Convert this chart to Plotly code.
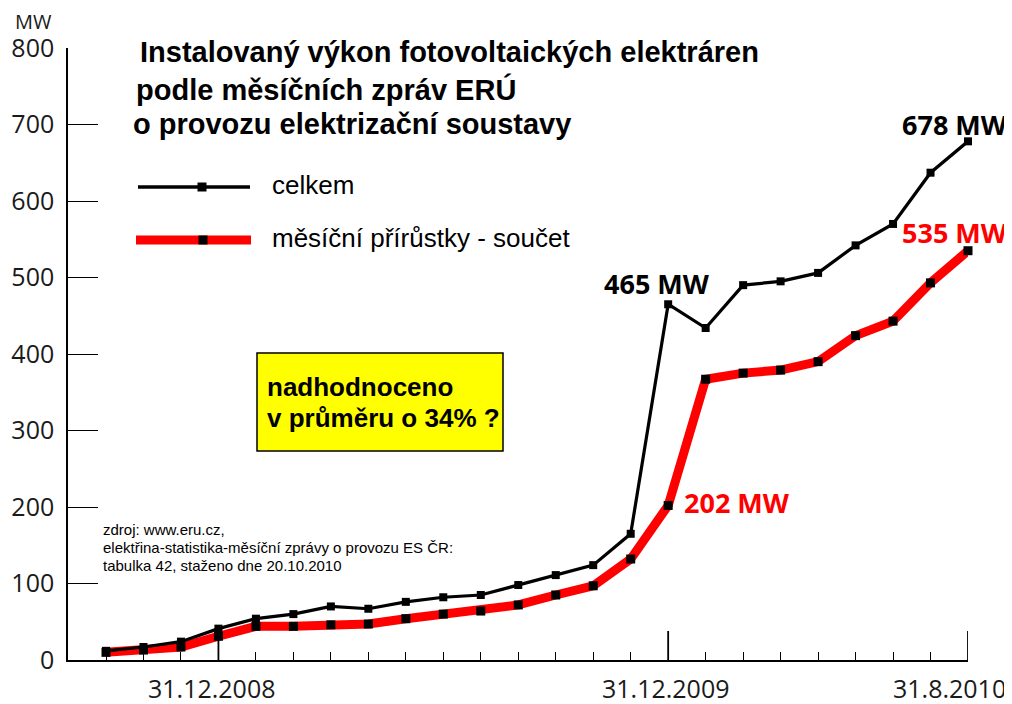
import plotly.graph_objects as go

# ---- data ----
months = list(range(24))  # 30.9.2008 ... 31.8.2010, monthly
celkem = [12, 17, 24, 41, 54, 60, 70, 67, 76, 82, 85, 98, 111, 124, 165,
          465, 434, 490, 495, 506, 542, 570, 637, 678]
soucet = [10, 13, 17, 31, 44, 44, 46, 47, 54, 60, 64, 72, 85, 97, 132,
          202, 367, 375, 379, 390, 424, 443, 493, 535]
date_tick_idx = [3, 15, 23]
date_tick_labels = ["31.12.2008", "31.12.2009", "31.8.2010"]
y_ticks = [0, 100, 200, 300, 400, 500, 600, 700, 800]

OFF = 8  # page body margin
W, H = 1012 - OFF, 704 - OFF
L, T = 68 - OFF, 48 - OFF
R, B = W - (968 - OFF), H - (660 - OFF)
PW, PH = W - L - R, H - T - B


def px(x):
    return (x - OFF - L) / PW


def py(y):
    return (H - B - (y - OFF)) / PH


fig = go.Figure()
fig.add_trace(go.Scatter(
    x=months, y=soucet, mode="lines+markers", cliponaxis=False,
    line=dict(color="#ff0000", width=9),
    marker=dict(symbol="square", size=9, color="black"),
    showlegend=False, hoverinfo="skip"))
fig.add_trace(go.Scatter(
    x=months, y=celkem, mode="lines+markers", cliponaxis=False,
    line=dict(color="black", width=3.2),
    marker=dict(symbol="square", size=8, color="black"),
    showlegend=False, hoverinfo="skip"))

shapes = []
# long ticks at labelled dates
for i in date_tick_idx:
    shapes.append(dict(type="line", xref="x", yref="paper", x0=i, x1=i,
                       y0=0, y1=29 / PH, line=dict(color="black", width=1.8)))
# legend
shapes.append(dict(type="line", xref="paper", yref="paper",
                   x0=px(138), x1=px(250), y0=py(187), y1=py(187),
                   line=dict(color="black", width=3.5)))
shapes.append(dict(type="line", xref="paper", yref="paper",
                   x0=px(136), x1=px(251), y0=py(240), y1=py(240),
                   line=dict(color="#ff0000", width=9)))
for cx, cy, s in [(202, 187, 9), (203, 240, 9)]:
    shapes.append(dict(type="rect", xref="paper", yref="paper",
                       x0=px(cx - s / 2), x1=px(cx + s / 2),
                       y0=py(cy + s / 2), y1=py(cy - s / 2),
                       fillcolor="black", line=dict(width=0)))
# yellow box
shapes.append(dict(type="rect", xref="paper", yref="paper",
                   x0=px(257), x1=px(503), y0=py(451), y1=py(353),
                   fillcolor="#ffff00", line=dict(color="black", width=1.5),
                   layer="below"))

ann = []


def text(x, y, s, size, color="black", family="Liberation Sans, Arial",
         xanchor="left", bold=False):
    ann.append(dict(xref="paper", yref="paper", x=px(x), y=py(y),
                    text=("<b>%s</b>" % s) if bold else s, showarrow=False,
                    xanchor=xanchor, yanchor="middle",
                    font=dict(size=size, color=color, family=family)))


# title
text(138, 52, "Instalovaný výkon fotovoltaických elektráren", 29, bold=True)
text(134, 89, "podle měsíčních zpráv ERÚ", 29, bold=True)
text(131, 124, "o provozu elektrizační soustavy", 29, bold=True)
# legend text
text(270, 185, "celkem", 26)
text(270, 238, "měsíční přírůstky - součet", 26)
# yellow box text
text(265, 387, "nadhodnoceno", 26, bold=True)
text(265, 418, "v průměru o 34% ?", 26, bold=True)
# source
text(101, 529, "zdroj: www.eru.cz,", 15)
text(101, 547, "elektřina-statistika-měsíční zprávy o provozu ES ČR:", 15)
text(101, 565, "tabulka 42, staženo dne 20.10.2010", 15)
# value labels
of = "Open Sans"
text(657, 283, "465 MW", 27, family=of, xanchor="center", bold=True)
text(955, 124, "678 MW", 27, family=of, xanchor="center", bold=True)
text(955, 232, "535 MW", 27, color="#ff0000", family=of, xanchor="center", bold=True)
text(737, 502, "202 MW", 27, color="#ff0000", family=of, xanchor="center", bold=True)
# axis unit
text(33, 22, "MW", 20, color="#1a1a1a", family=of, xanchor="center")
# x date labels
for i, lab in zip(date_tick_idx, date_tick_labels):
    xa = "right" if i == months[-1] else "center"
    shift = 40 if i == months[-1] else (-6 if i == date_tick_idx[0] else -2)
    ann.append(dict(xref="x", yref="paper", x=i, y=py(688), text=lab,
                    showarrow=False, xanchor=xa, yanchor="middle", xshift=shift,
                    font=dict(size=25, color="#1a1a1a", family=of)))

fig.update_layout(
    width=W, height=H, margin=dict(l=L, r=R, t=T, b=B, autoexpand=False),
    paper_bgcolor="white", plot_bgcolor="white",
    shapes=shapes, annotations=ann,
    xaxis=dict(range=[-(106 - 68) / ((968 - 106) / 23), 23], showgrid=False,
               automargin=False,
               zeroline=False, showline=True, linecolor="black", linewidth=1.5,
               ticks="inside", ticklen=8, tickwidth=1.2, tickcolor="black",
               tickvals=months, showticklabels=False),
    yaxis=dict(range=[0, 800], showgrid=False, zeroline=False, showline=True,
               automargin=False,
               linecolor="black", linewidth=1.5, ticks="inside", ticklen=30,
               tickwidth=1.2, tickcolor="black", tickvals=y_ticks,
               ticklabelstandoff=7,
               tickfont=dict(size=25, color="#1a1a1a", family=of)),
)

fig.write_html("out.html")
